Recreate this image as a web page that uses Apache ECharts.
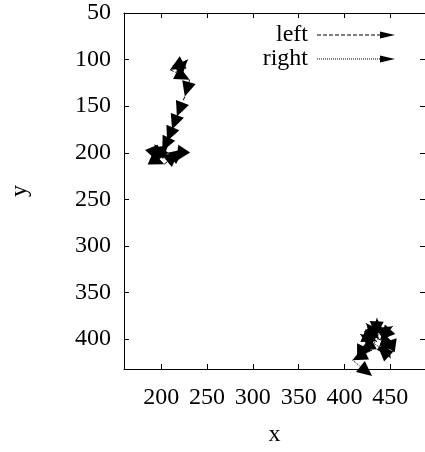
<!DOCTYPE html>
<html>
<head>
<meta charset="utf-8">
<script src="https://cdn.jsdelivr.net/npm/echarts@6/dist/echarts.min.js"></script>
<style>
html,body{margin:0;padding:0;background:#fff;}
#chart{width:425px;height:452px;}
</style>
</head>
<body>
<div id="chart"></div>
<script>
// Trajectory points; an arrow is drawn from each point to the next one
const leftX  = [216.1, 228.9, 209.6, 231.0, 225.7, 217.1, 211.8, 206.4, 201.1, 189.3, 195.7, 203.2, 224.6, 216.1, 200.0, 192.5];
const leftY  = [113.0, 100.2, 110.8, 121.5, 139.6, 161.0, 174.9, 187.7, 198.3, 194.1, 209.0, 212.2, 196.2, 209.0, 201.5, 190.9];
const rightX = [436.6, 435.5, 434.5, 452.7, 438.8, 423.8, 437.6, 455.9, 439.8, 450.5, 436.6, 417.3, 435.5, 417.3, 430.2, 408.8, 430.2];
const rightY = [401.1, 377.6, 396.9, 386.2, 401.1, 383.0, 400.0, 406.5, 404.3, 420.3, 407.5, 394.7, 402.2, 411.8, 411.8, 422.5, 439.5];
const xTicks = [200, 250, 300, 350, 400, 450];
const yTicks = [50, 100, 150, 200, 250, 300, 350, 400];
const seriesNames = ['left', 'right'];
const xName = 'x';
const yName = 'y';

function toVectors(xs, ys) {
  const out = [];
  for (let i = 0; i < xs.length - 1; i++) out.push([xs[i], ys[i], xs[i + 1], ys[i + 1]]);
  return out;
}

function makeRender(dash) {
  return function (params, api) {
    const p0 = api.coord([api.value(0), api.value(1)]);
    const p1 = api.coord([api.value(2), api.value(3)]);
    const dx = p1[0] - p0[0], dy = p1[1] - p0[1];
    const len = Math.hypot(dx, dy) || 1;
    const ux = dx / len, uy = dy / len;
    const L = 15, W = 7;
    const bx = p1[0] - ux * L, by = p1[1] - uy * L;
    const nx = -uy, ny = ux;
    const children = [];
    if (len > L) {
      children.push({type: 'line', shape: {x1: p0[0], y1: p0[1], x2: bx, y2: by},
        style: {stroke: '#000', lineWidth: 1, lineDash: dash}});
    }
    children.push({type: 'polygon',
      shape: {points: [[p1[0], p1[1]], [bx + nx * W, by + ny * W], [bx - nx * W, by - ny * W]]},
      style: {fill: '#000'}});
    return {type: 'group', children: children};
  };
}

function iconPath(on, off) {
  let s = '';
  for (let x = 0; x < 63; x += on + off) {
    const e = Math.min(x + on, 63);
    s += 'M' + x + ' 3L' + e + ' 3L' + e + ' 4L' + x + ' 4Z';
  }
  s += 'M63 0L78 3.5L63 7Z';
  return 'path://' + s;
}

const FONT = 'Liberation Serif';
const FS = 24;
const chart = echarts.init(document.getElementById('chart'), null, {renderer: 'canvas'});
chart.setOption({
  animation: false,
  backgroundColor: '#fff',
  grid: {left: 119, top: 13, right: -1, bottom: 81},
  legend: {
    orient: 'vertical', align: 'right', right: 30, top: 23, padding: 0,
    itemWidth: 78, itemHeight: 7, itemGap: 0,
    selectedMode: false,
    itemStyle: {color: '#000', borderWidth: 0},
    textStyle: {fontFamily: FONT, fontSize: FS, lineHeight: 24, color: '#000', padding: [0, 4, 0, 0]},
    data: [{name: seriesNames[0], icon: iconPath(4, 2)}, {name: seriesNames[1], icon: iconPath(1, 1)}]
  },
  xAxis: [{
    type: 'value', min: 159.3, max: 488.0, position: 'bottom',
    name: xName, nameLocation: 'middle', nameGap: 54,
    nameTextStyle: {fontFamily: FONT, fontSize: FS, color: '#000'},
    splitLine: {show: false},
    axisLine: {show: true, lineStyle: {color: '#000', width: 1}},
    axisTick: {show: true, inside: true, length: 5, lineStyle: {color: '#000'}, customValues: xTicks},
    axisLabel: {fontFamily: FONT, fontSize: FS, color: '#000', margin: 17, customValues: xTicks}
  }, {
    type: 'value', min: 159.3, max: 488.0, position: 'top',
    splitLine: {show: false},
    axisLine: {show: true, onZero: false, lineStyle: {color: '#000', width: 1}},
    axisTick: {show: true, inside: true, length: 5, lineStyle: {color: '#000'}, customValues: xTicks},
    axisLabel: {show: false}
  }],
  yAxis: [{
    type: 'value', min: 50, max: 432, inverse: true, position: 'left',
    name: yName, nameLocation: 'middle', nameGap: 92, nameRotate: 90,
    nameTextStyle: {fontFamily: FONT, fontSize: FS, color: '#000'},
    splitLine: {show: false},
    axisLine: {show: true, lineStyle: {color: '#000', width: 1}},
    axisTick: {show: true, inside: true, length: 5, lineStyle: {color: '#000'}, customValues: yTicks},
    axisLabel: {fontFamily: FONT, fontSize: FS, color: '#000', margin: 13, customValues: yTicks}
  }, {
    type: 'value', min: 50, max: 432, inverse: true, position: 'right',
    splitLine: {show: false},
    axisLine: {show: true, onZero: false, lineStyle: {color: '#000', width: 1}},
    axisTick: {show: true, inside: true, length: 5, lineStyle: {color: '#000'}, customValues: yTicks},
    axisLabel: {show: false}
  }],
  series: [{
    name: seriesNames[0], type: 'custom', xAxisIndex: 0, yAxisIndex: 0,
    itemStyle: {color: '#000'},
    encode: {x: [0, 2], y: [1, 3]},
    renderItem: makeRender([4, 2]),
    data: toVectors(leftX, leftY)
  }, {
    name: seriesNames[1], type: 'custom', xAxisIndex: 0, yAxisIndex: 0,
    itemStyle: {color: '#000'},
    encode: {x: [0, 2], y: [1, 3]},
    renderItem: makeRender([1, 1]),
    data: toVectors(rightX, rightY)
  }]
});
</script>
</body>
</html>
